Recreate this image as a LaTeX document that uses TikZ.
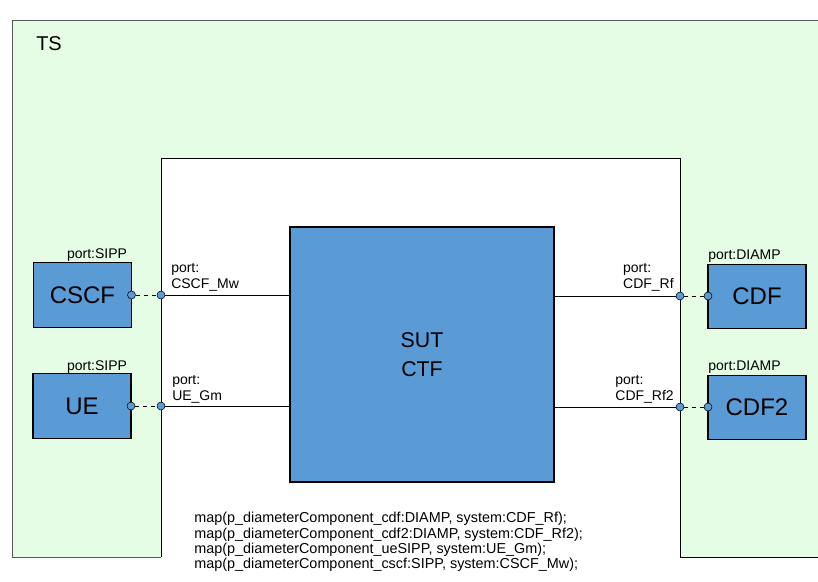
\documentclass[tikz,border=0pt]{standalone}
\usepackage{fontspec}
\setmainfont{Liberation Sans}
\definecolor{tsgreen}{RGB}{228,253,228}
\definecolor{compblue}{RGB}{91,155,213}
\begin{document}
\begin{tikzpicture}[
        x=0.75pt, y=-0.75pt,
        comp/.style={draw, thick, fill=compblue, minimum width=73.5pt, minimum height=48.5pt, font=\fontsize{18}{20}\selectfont},
        port/.style={circle, draw, fill=compblue, inner sep=0pt, minimum size=6pt},
        portlbl/.style={inner sep=0pt, font=\fontsize{10.5}{12.4}\selectfont, align=left},
        link/.style={line width=0.75pt}
    ]
    \useasboundingbox (0,0) rectangle (818,582);

    % The test system, SUT area cut out
    \fill[tsgreen] (12,20) -- (818,20) -- (818,557) -- (680,557) -- (680,158) -- (161,158) -- (161,557) -- (12,557) -- cycle;
    \draw[line width=0.75pt, black!65] (818,20) -- (12,20) -- (12,557) -- (161,557);
    \draw[line width=0.75pt] (161,557) -- (161,158) -- (680,158) -- (680,557) -- (818,557);
    \node[anchor=north west, inner sep=0pt, font=\fontsize{15}{18}\selectfont] (ts) at (36,36) {TS};

    % SUT
    \node[comp, minimum width=198pt, minimum height=191.25pt, align=center, font=\fontsize{16}{22}\selectfont] (sut) at (422,354.5) {SUT\\CTF};

    % Components
    \node[comp] (cscf) at (82.5,295) {CSCF}; \node[comp] (ue) at (82,406) {UE};
    \node[comp] (cdf) at (757,296.5) {CDF}; \node[comp] (cdf2) at (757,407.5) {CDF2};

    % Component port labels
    \node[portlbl, anchor=base] (cscfplbl) at (97,258) {port:SIPP}; \node[portlbl, anchor=base] (ueplbl) at (97,370) {port:SIPP};
    \node[portlbl, anchor=base west] (cdfplbl) at (708,259) {port:DIAMP}; \node[portlbl, anchor=base west] (cdf2plbl) at (708,370) {port:DIAMP};

    % Ports
    \node[port] (cscfp) at (131.5,295) {}; \node[port] (cscfsys) at (161,295) {};
    \node[port] (uep) at (131,406) {}; \node[port] (uesys) at (161,406) {};
    \node[port] (cdfsys) at (680,296) {}; \node[port] (cdfp) at (708,296) {};
    \node[port] (cdf2sys) at (680,407) {}; \node[port] (cdf2p) at (708,407) {};

    % Connections
    \draw[link, dashed] (cscfp) -- (cscfsys); \draw[link] (cscfsys) -- (cscfsys -| sut.west);
    \draw[link, dashed] (uep) -- (uesys); \draw[link] (uesys) -- (uesys -| sut.west);
    \draw[link, dashed] (cdfsys) -- (cdfp); \draw[link] (cdfsys) -- (cdfsys -| sut.east);
    \draw[link, dashed] (cdf2sys) -- (cdf2p); \draw[link] (cdf2sys) -- (cdf2sys -| sut.east);

    % System port labels
    \node[portlbl, anchor=north west] (cscfslbl) at (171,263) {port:\\CSCF\_Mw};
    \node[portlbl, anchor=north west] (ueslbl) at (172,375) {port:\\UE\_Gm};
    \node[portlbl, anchor=north east] (cdfslbl) at (674,263) {port:\\CDF\_Rf};
    \node[portlbl, anchor=north east] (cdf2slbl) at (674,375) {port:\\CDF\_Rf2};

    % Mapping
    \node[anchor=north west, inner sep=0pt, align=left, font=\fontsize{10.8}{11.5}\selectfont] (maps) at (194,512) {map(p\_diameterComponent\_cdf:DIAMP, system:CDF\_Rf);\\map(p\_diameterComponent\_cdf2:DIAMP, system:CDF\_Rf2);\\map(p\_diameterComponent\_ueSIPP, system:UE\_Gm);\\map(p\_diameterComponent\_cscf:SIPP, system:CSCF\_Mw);};
\end{tikzpicture}
\end{document}
